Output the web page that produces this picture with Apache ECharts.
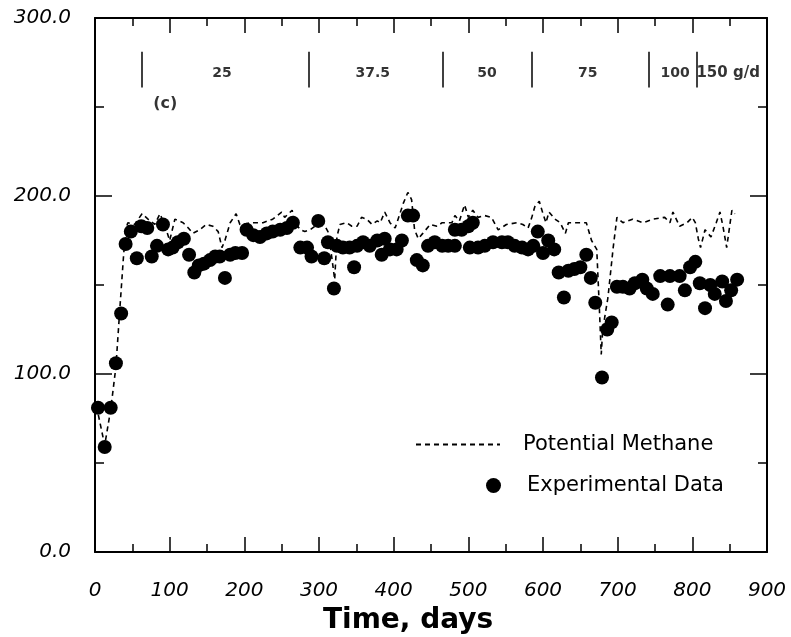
<!DOCTYPE html>
<html>
<head>
<meta charset="utf-8">
<script src="https://cdn.jsdelivr.net/npm/echarts@6/dist/echarts.min.js"></script>
<style>
html,body{margin:0;padding:0;background:#fff;}
#chart{width:791px;height:637px;}
</style>
</head>
<body>
<div id="chart"></div>
<script>
// ---- data ----
var experimentalData = [
[4,81],[13,59],[21,81],[28,106],[35,134],[41,173],[48,180],[56,165],[62,183],[70,182],[76,166],[83,172],[91,184],[98,170],[104,171],[111,174],[119,176],[126,167],[133,157],[139,161],[146,162],[154,164],[161,166],[167,166],[174,154],[181,167],[188,168],[197,168],[203,181],[212,178],[221,177],[230,179],[238,180],[248,181],[257,182],[265,185],[275,171],[284,171],[290,166],[299,186],[307,165],[312,174],[320,148],[324,172],[332,171],[341,171],[347,160],[351,172],[359,174],[368,172],[378,175],[384,167],[388,176],[395,170],[404,170],[411,175],[419,189],[426,189],[431,164],[439,161],[446,172],[455,174],[465,172],[473,172],[482,181],[482,172],[491,181],[500,183],[502,171],[506,185],[513,171],[522,172],[533,174],[545,174],[553,174],[562,172],[572,171],[580,170],[587,172],[593,180],[600,168],[607,175],[615,170],[621,157],[628,143],[634,158],[642,159],[650,160],[658,167],[664,154],[670,140],[679,98],[686,125],[692,129],[699,149],[707,149],[716,148],[723,151],[733,153],[739,148],[747,145],[757,155],[767,139],[770,155],[783,155],[790,147],[797,160],[804,163],[810,151],[817,137],[824,150],[830,145],[840,152],[845,141],[852,147],[860,153]
];
var potentialMethane = [
[2,82],[13,60],[21,80],[28,104],[33,135],[38,165],[41,181],[44,185],[53,184],[63,190],[71,187],[80,184],[87,190],[94,183],[100,175],[107,187],[118,185],[125,182],[131,179],[140,181],[149,184],[158,183],[165,180],[170,171],[174,175],[181,185],[189,190],[194,184],[198,184],[208,185],[225,185],[238,187],[250,191],[254,188],[264,192],[268,185],[275,181],[281,180],[288,181],[298,184],[308,183],[312,180],[317,166],[321,153],[324,177],[328,184],[337,185],[344,183],[351,183],[357,188],[364,187],[371,184],[378,186],[382,185],[388,191],[395,185],[402,182],[413,196],[419,202],[424,198],[428,181],[433,176],[439,179],[449,184],[458,183],[465,185],[471,185],[478,185],[482,189],[488,186],[495,195],[500,188],[506,192],[513,188],[522,189],[531,188],[540,181],[551,184],[565,185],[573,184],[580,182],[585,188],[589,194],[595,197],[600,190],[604,185],[608,191],[616,187],[623,185],[630,179],[634,185],[645,185],[658,185],[665,175],[672,170],[674,151],[676,132],[678,111],[680,125],[687,143],[694,171],[699,188],[707,185],[720,187],[734,185],[747,187],[763,188],[770,185],[774,191],[783,183],[793,185],[800,188],[804,185],[808,176],[811,171],[817,181],[825,177],[832,185],[837,191],[841,183],[846,171],[850,183],[853,192],[857,190]
];
var boundaryDays = [62, 286, 466, 585, 742, 806];
var boundaryRange = [261, 281];
var loadingLabels = ['25', '37.5', '50', '75', '100', '150 g/d'];
var loadingLabelDays = [170, 372, 525, 660, 777, 848];
var loadingLabelValue = 269;
var panelLabel = '(c)';
var panelLabelPos = [94, 252];
var xTicks = {min: 0, max: 900, interval: 100};
var yTicks = {min: 0, max: 300, interval: 100};

// ---- chart ----
var chart = echarts.init(document.getElementById('chart'), null, {renderer: 'canvas'});
var axisFont = {fontFamily: 'DejaVu Sans', fontStyle: 'italic', fontSize: 20, color: '#000'};

function baseX(pos, showLabels) {
  return {
    type: 'value', position: pos, min: xTicks.min, max: xTicks.max, interval: xTicks.interval,
    axisLine: {show: true, onZero: false, lineStyle: {color: '#000', width: 2}},
    axisTick: {show: true, inside: true, length: 15, lineStyle: {color: '#000', width: 1.5}},
    minorTick: {show: true, splitNumber: 2, length: 8, lineStyle: {color: '#000', width: 1.5}},
    splitLine: {show: false}, minorSplitLine: {show: false},
    axisLabel: showLabels ? Object.assign({margin: 29}, axisFont) : {show: false}
  };
}
function baseY(pos, showLabels) {
  return {
    type: 'value', position: pos, min: yTicks.min, max: yTicks.max, interval: yTicks.interval,
    axisLine: {show: true, onZero: false, lineStyle: {color: '#000', width: 2}},
    axisTick: {show: true, inside: true, length: 17, lineStyle: {color: '#000', width: 1.5}},
    minorTick: {show: true, splitNumber: 2, length: 9, lineStyle: {color: '#000', width: 1.5}},
    splitLine: {show: false}, minorSplitLine: {show: false},
    axisLabel: showLabels ? Object.assign({margin: 24, formatter: function (v) { return v.toFixed(1); }}, axisFont) : {show: false}
  };
}

var xb = baseX('bottom', true);
var xt = baseX('top', false);
var yl = baseY('left', true);
var yr = baseY('right', false);

var labelPoints = loadingLabels.map(function (t, i) {
  return {value: [loadingLabelDays[i], loadingLabelValue], name: t,
    label: {fontSize: i === 5 ? 15 : 14}};
});
var boundaryLines = boundaryDays.map(function (d) {
  return [{coord: [d, boundaryRange[0]]}, {coord: [d, boundaryRange[1]]}];
});

chart.setOption({
  animation: false,
  backgroundColor: '#fff',
  title: {text: 'Time, days', left: 318, top: 602,
    textStyle: {fontFamily: 'DejaVu Sans', fontWeight: 'bold', fontSize: 28, color: '#000'}},
  grid: {left: 95, right: 24, top: 18, bottom: 85, containLabel: false},
  xAxis: [xb, xt],
  yAxis: [yl, yr],
  legend: [
    {data: ['Potential Methane'], left: 410, top: 429, itemWidth: 84, itemHeight: 14, selectedMode: false,
      itemStyle: {opacity: 0, color: 'rgba(0,0,0,0)', borderWidth: 0},
      textStyle: {fontFamily: 'DejaVu Sans', fontSize: 21, color: '#000', padding: [0, 0, 0, 18]}},
    {data: ['Experimental Data'], left: 481, top: 470, itemWidth: 15, itemHeight: 15, selectedMode: false,
      textStyle: {fontFamily: 'DejaVu Sans', fontSize: 21, color: '#000', padding: [0, 0, 0, 21]}}
  ],
  series: [
    {
      name: 'Potential Methane', type: 'line', data: potentialMethane, xAxisIndex: 0, yAxisIndex: 0,
      symbol: 'none', showSymbol: false, z: 3,
      lineStyle: {color: '#000', width: 1.6, type: [5, 4]},
      itemStyle: {color: '#000'}
    },
    {
      name: 'Experimental Data', type: 'scatter', data: experimentalData, xAxisIndex: 0, yAxisIndex: 0,
      symbol: 'circle', symbolSize: 14, z: 4,
      itemStyle: {color: '#000', opacity: 1}
    },
    {
      name: 'annotations', type: 'scatter', xAxisIndex: 0, yAxisIndex: 0, symbolSize: 0, silent: true,
      data: labelPoints.concat([{value: panelLabelPos, name: panelLabel, label: {fontSize: 16}}]),
      label: {show: true, position: 'inside', formatter: '{b}', color: '#000', fontWeight: 'bold',
        fontFamily: 'DejaVu Sans'},
      markLine: {silent: true, symbol: 'none', label: {show: false},
        lineStyle: {color: '#000', width: 1.5, type: 'solid'}, data: boundaryLines}
    }
  ]
});
</script>
</body>
</html>
